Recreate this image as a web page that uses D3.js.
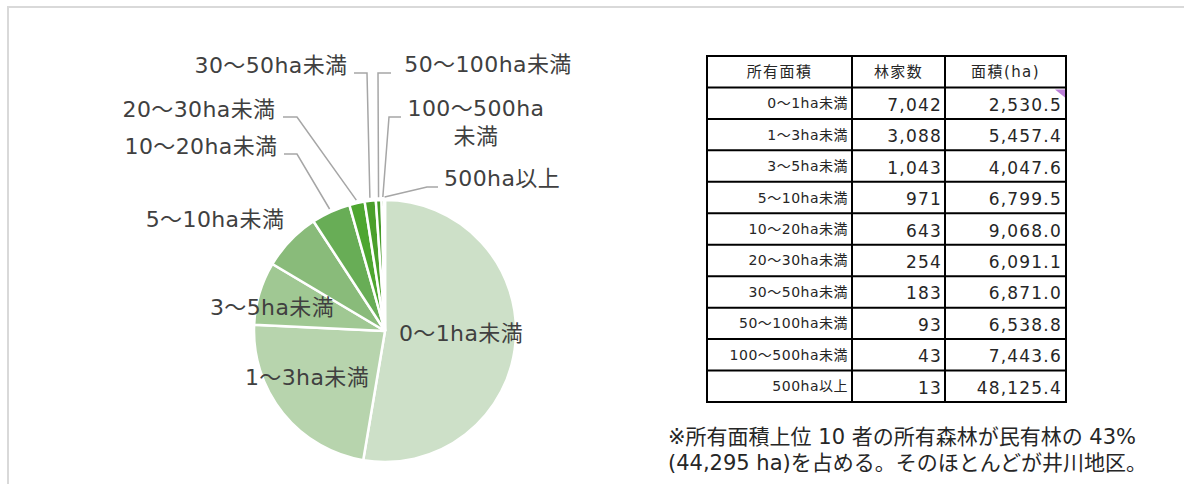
<!DOCTYPE html>
<html>
<head>
<meta charset="utf-8">
<script src="https://d3js.org/d3.v7.min.js"></script>
<style>
  body { margin: 0; background: #fff; }
  text { font-family: "DejaVu Sans", "Noto Sans CJK JP", sans-serif; }
</style>
</head>
<body>
<script>
// data
var categories = ["0～1ha未満", "1～3ha未満", "3～5ha未満", "5～10ha未満", "10～20ha未満",
    "20～30ha未満", "30～50ha未満", "50～100ha未満", "100～500ha未満", "500ha以上"];
var households = [7042, 3088, 1043, 971, 643, 254, 183, 93, 43, 13];
var areas = [2530.5, 5457.4, 4047.6, 6799.5, 9068.0, 6091.1, 6871.0, 6538.8, 7443.6, 48125.4];
var tableHeaders = ["所有面積", "林家数", "面積(ha)"];
var noteLines = [
    "※所有面積上位 10 者の所有森林が民有林の 43%",
    "(44,295 ha)を占める。そのほとんどが井川地区。"
];

// styles / layout
var pieColors = ["#cde0c8", "#b7d4ad", "#a0c893", "#89bb7a", "#68ad56",
    "#4ea630", "#4a9f2b", "#449a27", "#3d9023", "#36861f"];

var labelLayout = [
    {x: 461, y: 333},
    {x: 307, y: 377},
    {x: 272, y: 307},
    {x: 215, y: 219},
    {x: 201, y: 146, elbow: [284, 297, 154]},
    {x: 199, y: 109, elbow: [283, 297, 117]},
    {x: 271, y: 65, elbow: [354, 367, 73]},
    {x: 488, y: 64, elbow: [391, 378, 73]},
    {x: 476, y: 108, elbow: [401, 389, 117], wrap: true},
    {x: 502, y: 178, elbow: [438, 427, 187]}
];

var svgWidth = 1184;
var svgHeight = 484;
var cx = 385, cy = 331, radius = 131;

var svg = d3.select("body")
    .append("svg")
    .attr("width", svgWidth)
    .attr("height", svgHeight);

svg.append("rect")
    .attr("x", 8)
    .attr("y", 7)
    .attr("width", 1200)
    .attr("height", 520)
    .attr("fill", "none")
    .attr("stroke", "#d9d9d9")
    .attr("stroke-width", 2);

var rows = categories.map(function(c, i) {
    return {cat: c, count: households[i], area: areas[i]};
});

var pie = d3.pie().sort(null).value(d => d.count);
var arcs = pie(rows);
var arc = d3.arc().innerRadius(0).outerRadius(radius);
var leaderArc = d3.arc().innerRadius(radius + 3).outerRadius(radius + 3);

var pieGroup = svg.append("g")
    .attr("transform", `translate(${cx}, ${cy})`);

pieGroup.selectAll("path")
    .data(arcs)
    .enter()
    .append("path")
    .attr("d", arc)
    .attr("fill", (d, i) => pieColors[i])
    .attr("stroke", "#fff")
    .attr("stroke-width", 2.5);

// leader lines
svg.selectAll(".leader")
    .data(arcs.filter((d, i) => labelLayout[i].elbow))
    .enter()
    .append("polyline")
    .attr("class", "leader")
    .attr("points", function(d) {
        var e = labelLayout[d.index].elbow;
        var p = leaderArc.centroid(d);
        return [[e[0], e[2]], [e[1], e[2]], [cx + p[0], cy + p[1]]].join(" ");
    })
    .attr("fill", "none")
    .attr("stroke", "#a6a6a6")
    .attr("stroke-width", 1.5);

// pie labels
var labels = svg.selectAll(".pieLabel")
    .data(arcs)
    .enter()
    .append("text")
    .attr("class", "pieLabel")
    .attr("text-anchor", "middle")
    .attr("font-size", 22)
    .attr("letter-spacing", 0.4)
    .attr("fill", "#404040");

labels.each(function(d) {
    var lay = labelLayout[d.index];
    var t = d3.select(this);
    var lines = [d.data.cat];
    if (lay.wrap) {
        var k = d.data.cat.indexOf("ha") + 2;
        lines = [d.data.cat.slice(0, k), d.data.cat.slice(k)];
    }
    lines.forEach(function(line, j) {
        t.append("tspan")
            .attr("x", lay.x)
            .attr("y", lay.y + j * 28)
            .attr("dominant-baseline", "central")
            .text(line);
    });
});

// table
var colEdges = [707, 852, 945, 1066];
var rowBand = d3.scaleBand()
    .domain(d3.range(categories.length + 1))
    .range([56, 402]);

var table = svg.append("g");

table.selectAll(".hline")
    .data(d3.range(categories.length + 2))
    .enter()
    .append("line")
    .attr("x1", colEdges[0] - 1)
    .attr("x2", colEdges[3] + 1)
    .attr("y1", i => i <= categories.length ? rowBand(i) : rowBand.range()[1])
    .attr("y2", i => i <= categories.length ? rowBand(i) : rowBand.range()[1])
    .attr("stroke", "#000")
    .attr("stroke-width", 2);

table.selectAll(".vline")
    .data(colEdges)
    .enter()
    .append("line")
    .attr("x1", d => d)
    .attr("x2", d => d)
    .attr("y1", rowBand.range()[0])
    .attr("y2", rowBand.range()[1])
    .attr("stroke", "#000")
    .attr("stroke-width", 2);

table.selectAll(".head")
    .data(tableHeaders)
    .enter()
    .append("text")
    .attr("x", (d, i) => (colEdges[i] + colEdges[i + 1]) / 2)
    .attr("y", rowBand(0) + rowBand.bandwidth() / 2)
    .attr("dominant-baseline", "central")
    .attr("text-anchor", "middle")
    .attr("font-size", 15)
    .attr("letter-spacing", 1.4)
    .attr("fill", "#262626")
    .text(d => d);

var fmtCount = d3.format(",");
var fmtArea = d3.format(",.1f");

var bodyRows = table.selectAll(".row")
    .data(rows)
    .enter()
    .append("g")
    .attr("transform", (d, i) => `translate(0, ${rowBand(i + 1) + rowBand.bandwidth() / 2})`);

bodyRows.append("text")
    .attr("x", colEdges[1] - 4)
    .attr("dominant-baseline", "central")
    .attr("text-anchor", "end")
    .attr("font-size", 14)
    .attr("letter-spacing", 0.5)
    .attr("fill", "#262626")
    .text(d => d.cat);

bodyRows.append("text")
    .attr("x", colEdges[2] - 3)
    .attr("y", 1.5)
    .attr("dominant-baseline", "central")
    .attr("text-anchor", "end")
    .attr("font-size", 17)
    .attr("letter-spacing", 1.2)
    .attr("fill", "#262626")
    .text(d => fmtCount(d.count));

bodyRows.append("text")
    .attr("x", colEdges[3] - 4)
    .attr("y", 1.5)
    .attr("dominant-baseline", "central")
    .attr("text-anchor", "end")
    .attr("font-size", 17)
    .attr("letter-spacing", 1.2)
    .attr("fill", "#262626")
    .text(d => fmtArea(d.area));

// comment marker on first area cell
table.append("path")
    .attr("d", `M${colEdges[3] - 11},${rowBand(1) + 2}L${colEdges[3] - 1},${rowBand(1) + 2}L${colEdges[3] - 1},${rowBand(1) + 10}Z`)
    .attr("fill", "#bb7fd8");

// note
svg.selectAll(".note")
    .data(noteLines)
    .enter()
    .append("text")
    .attr("class", "note")
    .attr("x", 668)
    .attr("y", (d, i) => 444 + i * 26)
    .attr("font-size", 21)
    .attr("fill", "#262626")
    .text(d => d);
</script>
</body>
</html>
